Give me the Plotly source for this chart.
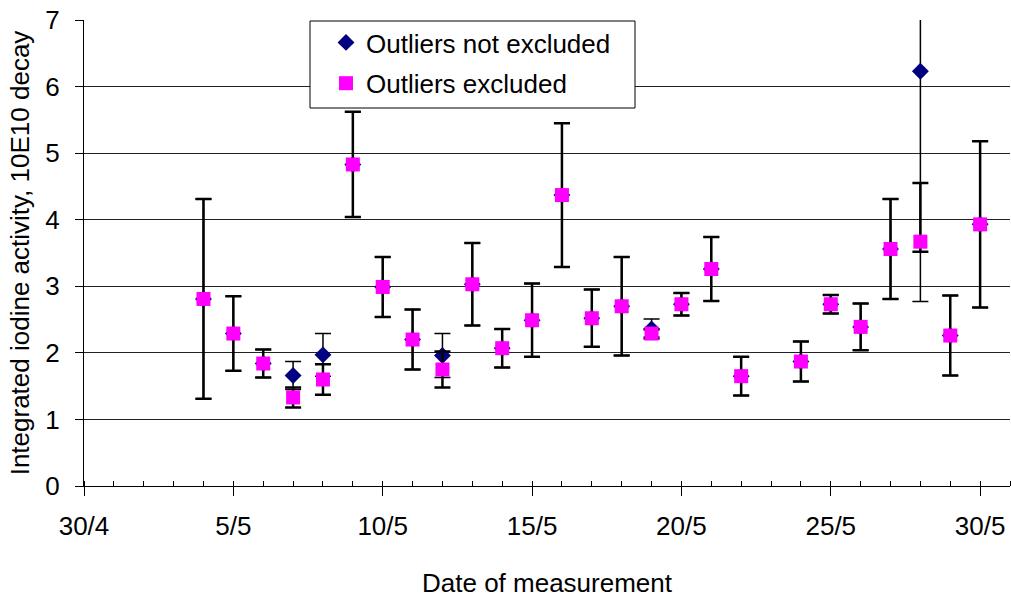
import plotly.graph_objects as go

# Measurement dates (May), 23/5 missing
dates = ["1986-05-04", "1986-05-05", "1986-05-06", "1986-05-07", "1986-05-08",
         "1986-05-09", "1986-05-10", "1986-05-11", "1986-05-12", "1986-05-13",
         "1986-05-14", "1986-05-15", "1986-05-16", "1986-05-17", "1986-05-18",
         "1986-05-19", "1986-05-20", "1986-05-21", "1986-05-22", "1986-05-24",
         "1986-05-25", "1986-05-26", "1986-05-27", "1986-05-28", "1986-05-29",
         "1986-05-30"]

# Outliers excluded (magenta squares)
excl_vals = [2.81, 2.29, 1.84, 1.33, 1.60, 4.83, 2.99, 2.20, 1.75, 3.03,
             2.07, 2.49, 4.37, 2.52, 2.70, 2.29, 2.73, 3.26, 1.65, 1.87,
             2.73, 2.39, 3.56, 3.67, 2.26, 3.93]
excl_err_plus = [1.50, 0.56, 0.21, 0.15, 0.23, 0.79, 0.45, 0.45, 0.27, 0.62,
                 0.29, 0.55, 1.08, 0.43, 0.74, 0.06, 0.17, 0.48, 0.29, 0.30,
                 0.14, 0.35, 0.75, 0.88, 0.60, 1.25]
excl_err_minus = [1.50, 0.56, 0.21, 0.15, 0.23, 0.79, 0.45, 0.45, 0.27, 0.62,
                  0.29, 0.55, 1.08, 0.43, 0.74, 0.06, 0.17, 0.48, 0.29, 0.30,
                  0.14, 0.35, 0.75, 0.15, 0.60, 1.25]

# Outliers not excluded (navy diamonds)
incl_vals = [2.81, 2.29, 1.84, 1.66, 1.97, 4.83, 2.99, 2.20, 1.96, 3.03,
             2.07, 2.49, 4.37, 2.52, 2.70, 2.36, 2.73, 3.26, 1.65, 1.87,
             2.73, 2.39, 3.56, 6.23, 2.26, 3.93]
incl_err = [1.50, 0.56, 0.21, 0.21, 0.32, 0.79, 0.45, 0.45, 0.33, 0.62,
            0.29, 0.55, 1.08, 0.43, 0.74, 0.15, 0.17, 0.48, 0.29, 0.30,
            0.14, 0.35, 0.75, 3.46, 0.60, 1.25]

tick_dates = ["1986-04-30", "1986-05-05", "1986-05-10", "1986-05-15",
              "1986-05-20", "1986-05-25", "1986-05-30"]
tick_labels = ["30/4", "5/5", "10/5", "15/5", "20/5", "25/5", "30/5"]

FONT = "Liberation Sans, Arial, sans-serif"
FS = 26

fig = go.Figure()
fig.add_trace(go.Scatter(
    x=dates, y=incl_vals, mode="markers", name="Outliers not excluded",
    legendgroup="a",
    marker=dict(symbol="diamond", size=13, color="#000080"),
    error_y=dict(type="data", array=incl_err, color="black",
                 thickness=1.5, width=8),
))
fig.add_trace(go.Scatter(
    x=dates, y=excl_vals, mode="markers", name="Outliers excluded",
    legendgroup="b",
    marker=dict(symbol="square", size=14, color="#FF00FF"),
    error_y=dict(type="data", array=excl_err_plus, arrayminus=excl_err_minus,
                 color="black", thickness=2.5, width=8),
))

# legend frame
fig.add_shape(type="rect", xref="paper", yref="paper",
              x0=(310 - 84) / 926, x1=(635 - 84) / 926,
              y0=(486 - 108) / 466, y1=(486 - 21) / 466,
              line=dict(color="black", width=1), fillcolor="white", layer="above")

fig.update_layout(
    width=1011, height=598,
    margin=dict(l=84, r=1, t=20, b=112),
    paper_bgcolor="white", plot_bgcolor="white",
    font=dict(family=FONT, size=FS, color="black"),
    showlegend=True,
    legend=dict(x=(326 - 84) / 926, y=(486 - 19) / 466, xanchor="left", yanchor="top",
                bgcolor="rgba(0,0,0,0)", borderwidth=0,
                font=dict(family=FONT, size=FS, color="black"),
                traceorder="grouped", tracegroupgap=4),
    xaxis=dict(
        type="date", range=["1986-04-30", "1986-05-31"],
        tickmode="array", tickvals=tick_dates, ticktext=tick_labels,
        ticks="outside", ticklen=9, tickcolor="black", tickwidth=1,
        minor=dict(ticks="inside", dtick=86400000, tick0="1986-04-30",
                   ticklen=5, tickcolor="black", showgrid=False),
        showline=True, linecolor="black", linewidth=1,
        showgrid=False, zeroline=False,
        ticklabelstandoff=8,
        title=dict(text="Date of measurement", standoff=38,
                   font=dict(family=FONT, size=FS)),
    ),
    yaxis=dict(
        range=[0, 7], dtick=1, tick0=0,
        ticks="outside", ticklen=8, tickcolor="black",
        showline=True, linecolor="black", linewidth=1,
        showgrid=True, gridcolor="#222222", gridwidth=1,
        zeroline=False, ticklabelstandoff=10,
        title=dict(text="Integrated iodine activity, 10E10 decay", standoff=8,
                   font=dict(family=FONT, size=FS)),
    ),
)

fig.write_html("out.html")
